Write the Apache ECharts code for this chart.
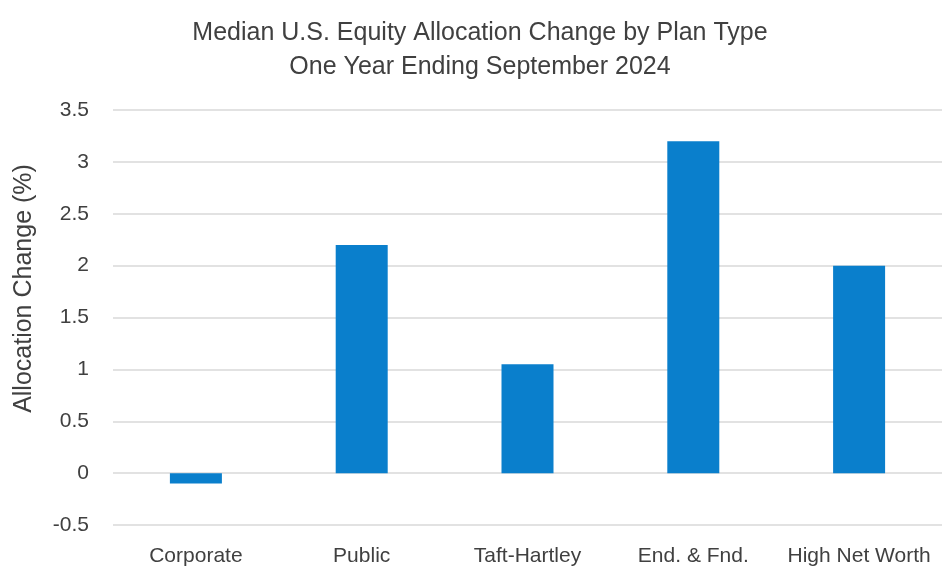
<!DOCTYPE html>
<html>
<head>
<meta charset="utf-8">
<script src="https://cdn.jsdelivr.net/npm/echarts@6/dist/echarts.min.js"></script>
<style>
  html, body { margin: 0; padding: 0; background: #fff; }
  #main { width: 942px; height: 572px; }
</style>
</head>
<body>
<div id="main"></div>
<script>
var categories = ['Corporate', 'Public', 'Taft-Hartley', 'End. & Fnd.', 'High Net Worth'];
var allocChange = [-0.1, 2.2, 1.05, 3.2, 2.0];

var chart = echarts.init(document.getElementById('main'));

chart.setOption({
    title: {
        text: 'Median U.S. Equity Allocation Change by Plan Type\nOne Year Ending September 2024',
        left: 475,
        textAlign: 'center',
        top: 11,
        textStyle: {
            fontFamily: 'Liberation Sans',
            fontSize: 25,
            fontWeight: 'normal',
            color: '#404040',
            lineHeight: 34
        }
    },
    grid: {
        left: 113,
        right: 0,
        top: 110,
        bottom: 47
    },
    xAxis: {
        type: 'category',
        data: categories,
        axisLine: { show: false },
        axisTick: { show: false },
        axisLabel: {
            interval: 0,
            hideOverlap: false,
            margin: 21,
            fontFamily: 'Liberation Sans',
            fontSize: 21,
            color: '#404040'
        }
    },
    yAxis: {
        type: 'value',
        min: -0.5,
        max: 3.5,
        interval: 0.5,
        name: 'Allocation Change (%)',
        nameLocation: 'middle',
        nameGap: 76,
        nameTextStyle: {
            fontFamily: 'Liberation Sans',
            fontSize: 25,
            color: '#404040',
            padding: [0, 0, 0, 58]
        },
        axisLabel: {
            margin: 24,
            fontFamily: 'Liberation Sans',
            fontSize: 21,
            color: '#404040'
        },
        splitLine: {
            lineStyle: { color: '#d9d9d9', width: 1.5 }
        }
    },
    series: [{
        type: 'bar',
        data: allocChange,
        barWidth: 52,
        itemStyle: { color: '#0a7fcc' }
    }]
});
</script>
</body>
</html>
